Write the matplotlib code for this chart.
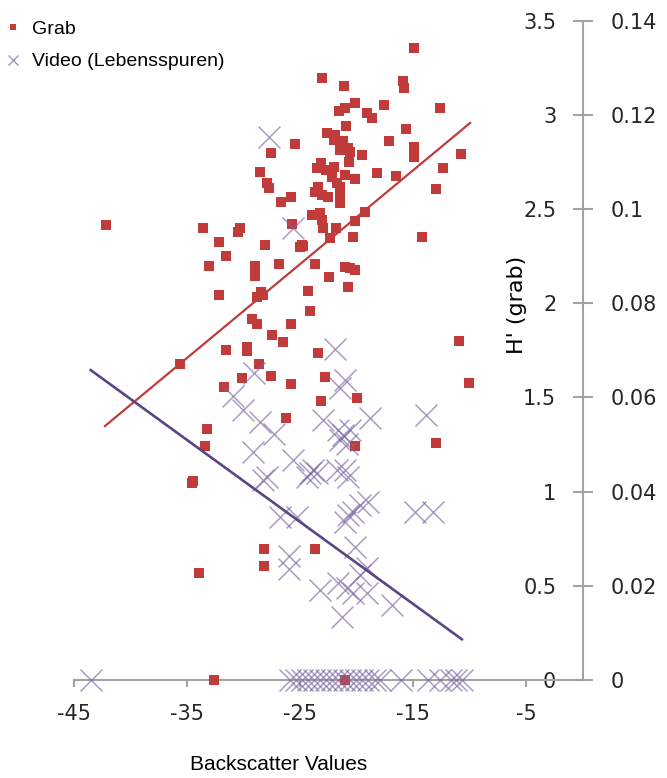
import matplotlib
matplotlib.use("Agg")
import matplotlib.pyplot as plt
from matplotlib.lines import Line2D
from matplotlib.ticker import FuncFormatter

plt.rcParams['axes.unicode_minus'] = False

# Grab samples: backscatter vs H' (grab)
grab_x = [-42.17, -33.56, -30.30, -30.46, -32.14, -31.55, -33.05, -28.07, -27.60, -25.44,
          -28.54, -27.95, -27.72, -26.71, -25.80, -25.75, -24.77, -26.86, -28.98, -28.98,
          -28.50, -28.83, -28.24, -32.14, -29.27, -28.83, -25.80, -24.26, -24.12, -27.45,
          -23.67, -14.88, -23.05, -21.10, -15.92, -15.77, -20.13, -21.02, -21.55, -17.57,
          -12.58, -19.10, -18.60, -20.93, -15.62, -22.64, -21.90, -21.99, -21.17, -17.10,
          -14.88, -14.88, -21.46, -20.73, -20.58, -19.54, -10.75, -20.64, -23.17, -23.47,
          -22.73, -21.99, -18.21, -16.50, -12.40, -21.02, -20.13, -22.20, -21.75, -21.46,
          -23.38, -23.67, -23.08, -22.50, -21.46, -21.46, -13.00, -23.97, -23.23, -23.08,
          -22.94, -21.81, -19.25, -20.13, -22.35, -20.28, -14.24, -24.80, -25.00, -21.02,
          -20.58, -20.13, -22.43, -20.78, -10.90, -35.62, -31.58, -29.72, -29.72, -26.53,
          -28.63, -30.16, -27.60, -25.80, -31.73, -26.27, -33.20, -33.41, -34.44, -34.58,
          -28.19, -28.19, -33.97, -23.67, -23.45, -23.15, -22.76, -19.98, -20.13, -10.02,
          -13.00, -32.60, -21.02]
grab_h = [2.413, 2.397, 2.397, 2.376, 2.323, 2.250, 2.199, 2.311, 2.796, 2.845,
          2.698, 2.636, 2.610, 2.536, 2.565, 2.420, 2.305, 2.206, 2.199, 2.146,
          2.062, 2.035, 2.044, 2.044, 1.915, 1.888, 1.888, 2.065, 1.959, 1.831,
          2.206, 3.353, 3.197, 3.155, 3.181, 3.141, 3.061, 3.038, 3.022, 3.052,
          3.035, 3.012, 2.985, 2.941, 2.925, 2.905, 2.893, 2.866, 2.863, 2.861,
          2.831, 2.778, 2.813, 2.822, 2.804, 2.787, 2.792, 2.748, 2.742, 2.716,
          2.707, 2.725, 2.689, 2.675, 2.720, 2.680, 2.659, 2.672, 2.636, 2.618,
          2.618, 2.588, 2.574, 2.565, 2.565, 2.530, 2.604, 2.468, 2.477, 2.442,
          2.397, 2.397, 2.486, 2.436, 2.344, 2.353, 2.353, 2.309, 2.300, 2.194,
          2.185, 2.176, 2.141, 2.084, 1.800, 1.677, 1.752, 1.769, 1.748, 1.796,
          1.677, 1.605, 1.614, 1.570, 1.554, 1.392, 1.332, 1.244, 1.056, 1.044,
          0.694, 0.605, 0.566, 0.694, 1.737, 1.481, 1.610, 1.495, 1.244, 1.575,
          1.260, 0.0, 0.0]

# Video (Lebensspuren) on the secondary axis
video_x = [-27.72, -25.60, -29.04, -30.90, -30.07, -28.54, -27.30, -29.19, -27.95, -28.25,
           -25.60, -24.41, -23.82, -24.12, -23.53, -26.77, -25.29, -25.97, -25.97, -23.20,
           -21.90, -21.02, -21.46, -22.94, -18.81, -13.88, -21.61, -21.17, -21.46, -20.87,
           -20.58, -21.75, -21.02, -20.73, -18.96, -19.69, -20.28, -20.73, -21.02, -14.82,
           -13.20, -20.13, -19.10, -19.69, -21.61, -20.87, -20.28, -19.10, -16.88, -21.31,
           -43.52, -25.88, -25.35, -24.82, -24.29, -23.76, -23.23, -22.70, -22.17, -21.64,
           -21.11, -20.58, -20.04, -19.51, -18.98, -18.36, -17.92, -16.08, -13.67, -12.61,
           -11.64, -11.20, -10.67]
video_v = [0.1152, 0.0959, 0.0651, 0.0602, 0.0573, 0.0548, 0.0522, 0.0485, 0.0432, 0.0425,
           0.0467, 0.0432, 0.0446, 0.0439, 0.0439, 0.0347, 0.0347, 0.0263, 0.0235, 0.0191,
           0.0702, 0.0637, 0.0619, 0.0552, 0.0556, 0.0563, 0.0531, 0.0520, 0.0510, 0.0502,
           0.0531, 0.0446, 0.0446, 0.0432, 0.0378, 0.0372, 0.0357, 0.0350, 0.0336, 0.0357,
           0.0357, 0.0283, 0.0237, 0.0223, 0.0205, 0.0195, 0.0184, 0.0184, 0.0159, 0.0134,
           0.0, 0.0, 0.0, 0.0, 0.0, 0.0, 0.0, 0.0, 0.0, 0.0,
           0.0, 0.0, 0.0, 0.0, 0.0, 0.0, 0.0, 0.0, 0.0, 0.0,
           0.0, 0.0, 0.0]

# linear trendline end points
grab_trend_x = [-42.26, -9.96]
grab_trend_y = [1.348, 2.957]
video_trend_x = [-43.52, -10.69]
video_trend_y = [0.0658, 0.00864]

x_ticks = [-45, -35, -25, -15, -5]
h_ticks = [0, 0.5, 1, 1.5, 2, 2.5, 3, 3.5]
v_ticks = [0, 0.02, 0.04, 0.06, 0.08, 0.1, 0.12, 0.14]

RED = '#c23b3b'
PURPLE = '#7a68a6'
PURPLE_LINE = '#5a4585'
GREY = '#a3a3a3'
TXT = '#262626'

fig = plt.figure(figsize=(6.67, 7.78), dpi=100)
ax = fig.add_axes([0.1109, 0.126, 0.7627, 0.8474])
ax.set_xlim(-45, 0)
ax.set_ylim(0, 3.5)

ax.scatter(grab_x, grab_h, marker='s', s=52, color=RED, linewidths=0, clip_on=False, zorder=3)
ax.plot(grab_trend_x, grab_trend_y, color=RED, lw=1.6, zorder=5)

# axis lines: bottom spine, value axis drawn at the right edge (x = 0)
for side in ['top', 'right']:
    ax.spines[side].set_visible(False)
ax.spines['left'].set_position(('axes', 1.0))
for side in ['left', 'bottom']:
    ax.spines[side].set_color(GREY)
    ax.spines[side].set_linewidth(1.5)

fmt = FuncFormatter(lambda v, p: '%g' % v)
ax.set_xticks(x_ticks)
ax.xaxis.set_major_formatter(fmt)
ax.set_yticks(h_ticks)
ax.yaxis.set_major_formatter(fmt)
ax.tick_params(axis='x', direction='out', length=5, width=1.5, color=GREY,
               labelsize=15, labelcolor=TXT, pad=12)
ax.tick_params(axis='y', direction='inout', length=14, width=1.5, color=GREY,
               labelsize=15, labelcolor=TXT, pad=12)

ax2 = ax.twinx()
ax2.set_ylim(0, 0.14)
for side in ax2.spines:
    ax2.spines[side].set_visible(False)
ax2.set_yticks(v_ticks)
ax2.yaxis.set_major_formatter(fmt)
ax2.tick_params(axis='y', length=0, labelsize=15, labelcolor=TXT, pad=20)
ax2.scatter(video_x, video_v, marker='x', s=250, color=PURPLE, alpha=0.65,
            linewidths=1.1, clip_on=False, zorder=3)
ax2.plot(video_trend_x, video_trend_y, color=PURPLE_LINE, lw=1.9, zorder=5)

fig.text(0.775, 1 - 305 / 778, "H' (grab)", rotation=90, ha='center', va='center',
         fontsize=16, color='black')
fig.text(0.418, 0.010, 'Backscatter Values', ha='center', va='baseline',
         fontsize=15, family='Liberation Sans', color='black')

handles = [Line2D([], [], ls='none', marker='s', markersize=4.5, color=RED, markeredgewidth=0),
           Line2D([], [], ls='none', marker='x', markersize=7, color=PURPLE, alpha=0.7,
                  markeredgewidth=1.0)]
fig.legend(handles, ['Grab', 'Video (Lebensspuren)'], loc='upper left',
           bbox_to_anchor=(8 / 667, 1 - 20 / 778), frameon=False, borderpad=0,
           borderaxespad=0, handlelength=0.5, handletextpad=0.75, labelspacing=0.78,
           prop={'family': 'Liberation Sans', 'size': 14})

fig.savefig('out.png', dpi=100)
